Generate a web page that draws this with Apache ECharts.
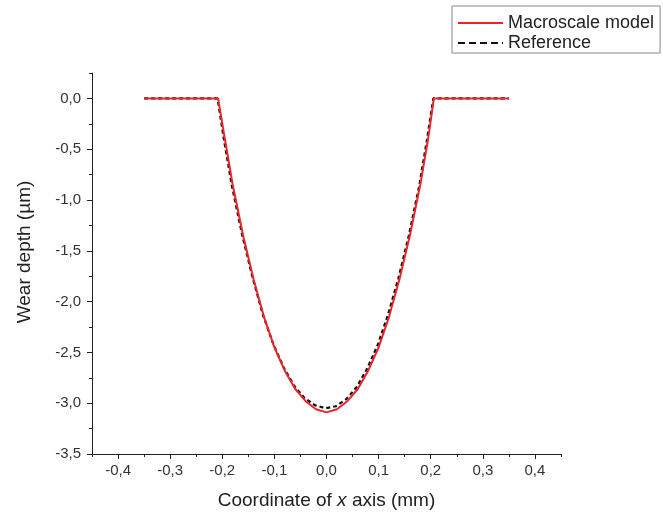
<!DOCTYPE html>
<html>
<head>
    <meta charset="utf-8">
    <title>Wear depth</title>
    <script src="https://cdn.jsdelivr.net/npm/echarts@6/dist/echarts.min.js"></script>
    <style>
        html, body { margin: 0; padding: 0; background: #fff; }
    </style>
</head>
<body>
    <div id="main" style="width: 663px;height:515px;"></div>

    <script type="text/javascript">
        // x (mm), wear depth (µm)
        var macroX = [-0.35, -0.208, -0.195, -0.18, -0.16, -0.14, -0.12, -0.10, -0.08, -0.06, -0.04, -0.02, 0,
                      0.02, 0.04, 0.06, 0.08, 0.10, 0.12, 0.14, 0.16, 0.18, 0.195, 0.206, 0.35];
        var macroY = [0, 0, -0.40, -0.85, -1.35, -1.78, -2.15, -2.45, -2.68, -2.86, -2.98, -3.06, -3.09,
                      -3.06, -2.98, -2.86, -2.68, -2.45, -2.15, -1.78, -1.35, -0.85, -0.40, 0, 0];

        var refX = [-0.35, -0.209, -0.197, -0.182, -0.162, -0.142, -0.122, -0.102, -0.082, -0.062, -0.042, -0.022, -0.002,
                    0.018, 0.038, 0.058, 0.078, 0.098, 0.118, 0.138, 0.158, 0.178, 0.193, 0.205, 0.35];
        var refY = [0, 0, -0.40, -0.85, -1.34, -1.76, -2.13, -2.42, -2.65, -2.83, -2.95, -3.02, -3.05,
                    -3.03, -2.96, -2.84, -2.66, -2.43, -2.13, -1.77, -1.35, -0.86, -0.40, 0, 0];

        var xTicks = [-0.4, -0.3, -0.2, -0.1, 0, 0.1, 0.2, 0.3, 0.4];
        var yTicks = [0, -0.5, -1.0, -1.5, -2.0, -2.5, -3.0, -3.5];

        function pairs(xs, ys) {
            var out = [];
            for (var i = 0; i < xs.length; i++) out.push([xs[i], ys[i]]);
            return out;
        }
        function comma(v) {
            return v.toFixed(1).replace('.', ',');
        }

        var font = 'Liberation Sans, Arial, sans-serif';
        var axisColor = '#222';

        var chart = echarts.init(document.getElementById('main'));
        chart.setOption({
            animation: false,
            backgroundColor: '#fff',
            grid: { left: 92, right: 102, top: 73, bottom: 61 },
            legend: {
                data: [
                    { name: 'Macroscale model' },
                    { name: 'Reference', lineStyle: { type: [7, 4], width: 2 } }
                ],
                orient: 'vertical',
                left: 452,
                top: 6,
                padding: [8, 6, 1, 5],
                itemGap: 2,
                itemWidth: 45,
                itemHeight: 18,
                itemStyle: { opacity: 0 },
                borderColor: '#888',
                borderWidth: 1,
                textStyle: { fontFamily: font, fontSize: 18, lineHeight: 18, color: '#222' }
            },
            xAxis: [
                {
                    // minor ticks + axis line
                    type: 'value',
                    min: -0.45, max: 0.45, interval: 0.05,
                    axisLine: { show: true, onZero: false, lineStyle: { color: axisColor, width: 1 } },
                    axisTick: { show: true, inside: false, length: 3, lineStyle: { color: axisColor } },
                    axisLabel: { show: false },
                    splitLine: { show: false },
                    name: 'Coordinate of {i|x} axis (mm)',
                    nameLocation: 'middle',
                    nameGap: 37,
                    nameTextStyle: {
                        fontFamily: font, fontSize: 19, color: '#222',
                        rich: { i: { fontFamily: font, fontSize: 19, fontStyle: 'italic', color: '#222' } }
                    }
                },
                {
                    // major ticks + labels
                    type: 'value',
                    position: 'bottom',
                    min: -0.45, max: 0.45,
                    axisLine: { show: false, onZero: false },
                    axisTick: { show: true, length: 5, customValues: xTicks, lineStyle: { color: axisColor } },
                    axisLabel: {
                        customValues: xTicks, margin: 9,
                        fontFamily: font, fontSize: 15, color: '#333',
                        formatter: comma
                    },
                    splitLine: { show: false }
                }
            ],
            yAxis: [
                {
                    type: 'value',
                    min: -3.5, max: 0.25, interval: 0.25,
                    axisLine: { show: true, onZero: false, lineStyle: { color: axisColor, width: 1 } },
                    axisTick: { show: true, length: 3, lineStyle: { color: axisColor } },
                    axisLabel: { show: false },
                    splitLine: { show: false }
                },
                {
                    type: 'value',
                    position: 'left',
                    min: -3.5, max: 0.25,
                    axisLine: { show: false, onZero: false },
                    axisTick: { show: true, length: 5, customValues: yTicks, lineStyle: { color: axisColor } },
                    axisLabel: {
                        customValues: yTicks, margin: 11,
                        fontFamily: font, fontSize: 15, color: '#333',
                        formatter: comma
                    },
                    splitLine: { show: false }
                }
            ],
            graphic: [{
                type: 'text',
                x: 25, y: 252,
                rotation: Math.PI / 2,
                style: {
                    text: 'Wear depth (µm)',
                    fontFamily: font, fontSize: 19, fill: '#222',
                    align: 'center', verticalAlign: 'middle'
                }
            }],
            series: [
                {
                    name: 'Reference',
                    type: 'line',
                    xAxisIndex: 0, yAxisIndex: 0,
                    symbol: 'none',
                    data: pairs(refX, refY),
                    lineStyle: { color: '#111', width: 2.2, type: [4, 3] },
                    itemStyle: { color: '#111' },
                    z: 2
                },
                {
                    name: 'Macroscale model',
                    type: 'line',
                    xAxisIndex: 0, yAxisIndex: 0,
                    symbol: 'none',
                    data: pairs(macroX, macroY),
                    lineStyle: { color: '#e8262b', width: 2 },
                    itemStyle: { color: '#e8262b' },
                    z: 3
                }
            ]
        });
    </script>
</body>
</html>
